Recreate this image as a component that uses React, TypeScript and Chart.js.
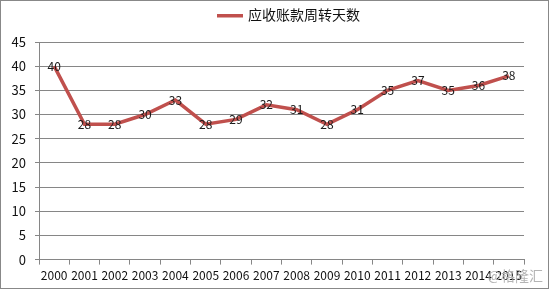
import React, { useEffect, useRef } from "react";
import { Chart, registerables } from "chart.js";

Chart.register(...registerables);

const years = ["2000","2001","2002","2003","2004","2005","2006","2007","2008","2009","2010","2011","2012","2013","2014","2015"];
const turnoverDays = [40,28,28,30,33,28,29,32,31,28,31,35,37,35,36,38];
const seriesName = "应收账款周转天数";
const lineColor = "#C0504D";
const fontFam = "'Noto Sans CJK SC', 'Noto Sans', sans-serif";

const labelPlugin = {
  id: "pointLabels",
  afterDatasetsDraw(chart: any) {
    const ctx = chart.ctx;
    const meta = chart.getDatasetMeta(0);
    ctx.save();
    ctx.font = "12px " + fontFam;
    ctx.fillStyle = "#1a1a1a";
    ctx.textAlign = "center";
    ctx.textBaseline = "middle";
    meta.data.forEach((pt: any, i: number) => {
      ctx.fillText(String(turnoverDays[i]), pt.x, pt.y);
    });
    ctx.restore();
  },
};

const legendPlugin = {
  id: "customLegend",
  afterDraw(chart: any) {
    const ctx = chart.ctx;
    const ds = chart.data.datasets[0];
    ctx.save();
    ctx.fillStyle = ds.borderColor;
    ctx.fillRect(216, 13, 26, 3.5);
    ctx.font = "14px " + fontFam;
    ctx.fillStyle = "#111";
    ctx.textAlign = "left";
    ctx.textBaseline = "middle";
    ctx.fillText(ds.label, 247, 14);
    ctx.restore();
  },
};

export default function App() {
  const ref = useRef<HTMLCanvasElement>(null);
  useEffect(() => {
    if (!ref.current) return;
    const chart = new Chart(ref.current, {
      type: "line",
      data: {
        labels: years,
        datasets: [
          {
            label: seriesName,
            data: turnoverDays,
            borderColor: lineColor,
            backgroundColor: lineColor,
            borderWidth: 3.5,
            pointRadius: 0,
            tension: 0,
          },
        ],
      },
      options: {
        animation: false,
        responsive: false,
        maintainAspectRatio: false,
        layout: { padding: { left: 0, right: 24, top: 41, bottom: 1 } },
        plugins: {
          legend: { display: false },
          tooltip: { enabled: false },
        },
        scales: {
          x: {
            offset: true,
            grid: {
              offset: true,
              drawOnChartArea: false,
              drawTicks: true,
              tickLength: 5,
              color: "#868686",
            },
            border: { color: "#868686" },
            ticks: {
              color: "#111",
              font: { size: 12, family: fontFam },
              maxRotation: 0,
              autoSkip: false,
              padding: 4,
            },
          },
          y: {
            min: 0,
            max: 45,
            afterFit: (scale: any) => {
              scale.width = 38;
            },
            ticks: {
              stepSize: 5,
              color: "#111",
              font: { size: 13, family: fontFam },
              padding: 9,
            },
            grid: { color: "#868686", tickLength: 4 },
            border: { color: "#868686" },
          },
        },
      },
      plugins: [labelPlugin, legendPlugin],
    });
    return () => chart.destroy();
  }, []);
  return (
    <div
      style={{
        position: "fixed",
        left: 0,
        top: 0,
        width: 549,
        height: 289,
        boxSizing: "border-box",
        border: "1px solid #888",
        background: "#fff",
      }}
    >
      <canvas ref={ref} width={547} height={287} style={{ display: "block" }} />
      <span
        style={{
          position: "absolute",
          right: 5,
          top: 264,
          lineHeight: "20px",
          color: "#b4b4b4",
          fontSize: 14,
          fontFamily: fontFam,
        }}
      >
        @格隆汇
      </span>
    </div>
  );
}
